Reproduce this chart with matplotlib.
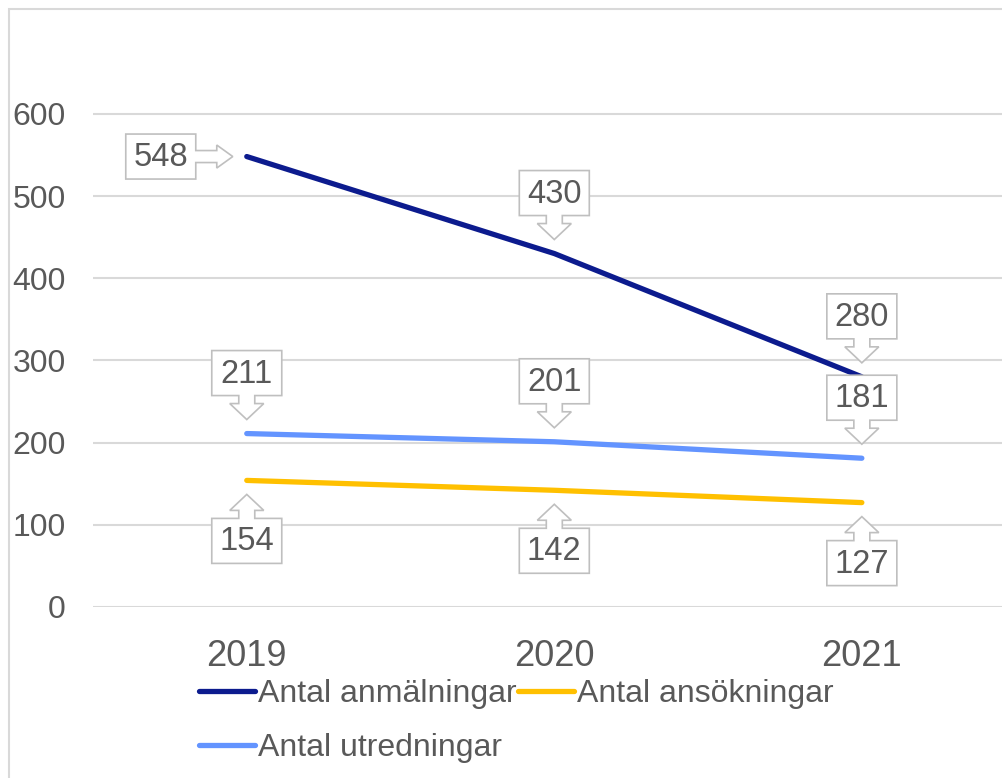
import matplotlib
matplotlib.use('Agg')
import matplotlib.pyplot as plt
from matplotlib.patches import Polygon, Rectangle
from matplotlib.transforms import Affine2D, ScaledTranslation

years = ['2019', '2020', '2021']
anmalningar = [548, 430, 280]
ansokningar = [154, 142, 127]
utredningar = [211, 201, 181]

# where the value callout sits relative to each point
anm_pos = ['left', 'above', 'above']
ans_pos = ['below', 'below', 'below']
utr_pos = ['above', 'above', 'above']

TEXT = '#595959'
GRID = '#d9d9d9'
EDGE = '#bfbfbf'

plt.rcParams['font.family'] = ['Liberation Sans', 'DejaVu Sans']


def callout_shape(where):
    # pixel offsets from the data point, y up
    bw, bh = 70, 45
    gap, head, hh = 14, 16, 17
    if where == 'above':
        sh, sl = 8, 8
        t = gap
        pts = [(0, t), (-hh, t + head), (-sh, t + head), (-sh, t + head + sl),
               (-bw / 2, t + head + sl), (-bw / 2, t + head + sl + bh),
               (bw / 2, t + head + sl + bh), (bw / 2, t + head + sl),
               (sh, t + head + sl), (sh, t + head), (hh, t + head)]
        centre = (0, t + head + sl + bh / 2)
    elif where == 'below':
        sh, sl = 8, 8
        t = -gap
        pts = [(0, t), (-hh, t - head), (-sh, t - head), (-sh, t - head - sl),
               (-bw / 2, t - head - sl), (-bw / 2, t - head - sl - bh),
               (bw / 2, t - head - sl - bh), (bw / 2, t - head - sl),
               (sh, t - head - sl), (sh, t - head), (hh, t - head)]
        centre = (0, t - head - sl - bh / 2)
    else:  # left
        sh, sl, hh2 = 6, 21, 11.5
        t = -gap
        pts = [(t, 0), (t - head, hh2), (t - head, sh), (t - head - sl, sh),
               (t - head - sl, bh / 2), (t - head - sl - bw, bh / 2),
               (t - head - sl - bw, -bh / 2), (t - head - sl, -bh / 2),
               (t - head - sl, -sh), (t - head, -sh), (t - head, -hh2)]
        centre = (t - head - sl - bw / 2, 0)
    return pts, centre


def add_callout(ax, x, y, value, where):
    pts, centre = callout_shape(where)
    tr = Affine2D() + ScaledTranslation(x, y, ax.transData)
    ax.add_patch(Polygon(pts, closed=True, facecolor='white', edgecolor=EDGE,
                         linewidth=1.2, transform=tr, zorder=5, clip_on=False))
    ax.text(centre[0], centre[1] - 1, str(value), transform=tr, ha='center',
            va='center', fontsize=23.5, color=TEXT, zorder=6)


fig = plt.figure(figsize=(10.03, 7.78), dpi=100)
fig.add_artist(Rectangle((9 / 1003, -0.01), 1.1, 1 - 9 / 778 + 0.01,
                         transform=fig.transFigure, fill=False,
                         edgecolor=GRID, linewidth=1.5))

ax = fig.add_axes([93 / 1003, (778 - 607) / 778, 910 / 1003, 575.4 / 778])
x = list(range(len(years)))

l1, = ax.plot(x, anmalningar, color='#0c1b8e', linewidth=3.8,
              solid_capstyle='round', label='Antal anmälningar', zorder=3)
l2, = ax.plot(x, ansokningar, color='#ffc000', linewidth=3.8,
              solid_capstyle='round', label='Antal ansökningar', zorder=3)
l3, = ax.plot(x, utredningar, color='#6394ff', linewidth=3.8,
              solid_capstyle='round', label='Antal utredningar', zorder=3)

ax.set_xlim(-0.5, 2.459)
ax.set_ylim(0, 700)
ax.set_yticks(range(0, 700, 100))
ax.set_xticks(x)
ax.set_xticklabels(years)
ax.yaxis.grid(True, color=GRID, linewidth=1.5)
ax.set_axisbelow(True)
for s in ax.spines.values():
    s.set_visible(False)
ax.tick_params(axis='both', length=0, colors=TEXT)
ax.tick_params(axis='y', labelsize=23, pad=19.5)
ax.tick_params(axis='x', labelsize=26, pad=23)

for vals, pos in [(anmalningar, anm_pos), (utredningar, utr_pos),
                  (ansokningar, ans_pos)]:
    for i, v in enumerate(vals):
        add_callout(ax, x[i], v, v, pos[i])

# legend fills column-wise, so order handles to read row by row
ax.legend([l1, l3, l2], [l1.get_label(), l3.get_label(), l2.get_label()],
          loc='upper left', bbox_to_anchor=(199 / 1003, 1 - 679 / 778),
          bbox_transform=fig.transFigure, ncol=2, frameon=False,
          fontsize=23, handlelength=1.75, handletextpad=0.1,
          columnspacing=0.05, borderpad=0, borderaxespad=0,
          labelspacing=0.75, labelcolor=TEXT)

fig.savefig('out.png', dpi=100)
